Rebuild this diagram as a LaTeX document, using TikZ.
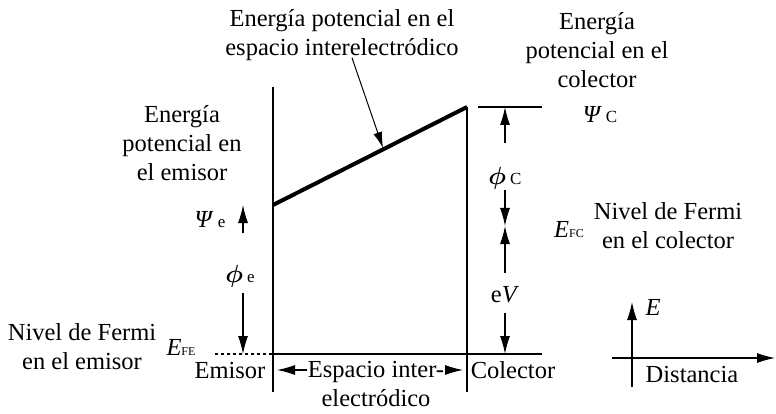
\documentclass[tikz,border=0pt]{standalone}
\usepackage{fontspec}
\setmainfont{Liberation Serif}
\usetikzlibrary{arrows.meta}
\tikzset{
  every picture/.style={line width=1.2pt},
  lbl/.style={font=\fontsize{24.5}{29}\selectfont, align=center, inner sep=0pt, anchor=base},
  dim/.style={-{Latex[length=18pt, width=10pt]}, line width=1.1pt},
  pointer/.style={-{Latex[length=16pt, width=9pt]}, line width=1pt},
  wall/.style={line width=1.4pt},
}
\newcommand{\subtxt}[1]{{\fontsize{17}{17}\selectfont #1}}
\newcommand{\smallsub}[1]{{\fontsize{12}{12}\selectfont #1}}
\newcommand{\wphi}{{\boldmath$\phi$}}

\begin{document}
\begin{tikzpicture}[x=1pt, y=-1pt]
  \useasboundingbox (0,0) rectangle (776,414);
  % electrodes and levels
  \coordinate (emTop) at (273,87);
  \coordinate (emBot) at (273,392);
  \coordinate (coTop) at (467,107);
  \coordinate (coBot) at (467,392);
  \coordinate (psiE) at (273,205);
  \coordinate (fermiE) at (273,354);
  \coordinate (fermiC) at (542,354);
  \coordinate (dashL) at (215,354);
  \coordinate (psiCl) at (478,107);
  \coordinate (psiCr) at (542,107);
  \draw[wall] (emTop) -- (emBot);
  \draw[wall] (coTop) -- (coBot);
  \draw[line width=4pt] (psiE) -- (coTop);
  \draw (psiCl) -- (psiCr);
  \draw (fermiE) -- (fermiC);
  \draw[dashed] (dashL) -- (fermiE);

  % labels (anchor is the baseline of the last line)
  \node[lbl] (topLbl) at (342,56) {Energía potencial en el\\espacio interelectródico};
  \coordinate (slopeTip) at (383,148);
  \draw[pointer] ([xshift=10pt, yshift=4pt]topLbl.south) -- (slopeTip);
  \node[lbl] (emPot) at (182,181) {Energía\\potencial en\\el emisor};
  \node[lbl] (coPot) at (597,88) {Energía\\potencial en el\\colector};
  \node[lbl] (emFermi) at (82,369) {Nivel de Fermi\\en el emisor};
  \node[lbl] (coFermi) at (668,248) {Nivel de Fermi\\en el colector};
  \node[lbl] (psiELbl) at (210,227) {\textit{Ψ}\,\subtxt{e}};
  \node[lbl] (psiCLbl) at (600,123) {\textit{Ψ}\,\subtxt{C}};
  \node[lbl] (efeLbl) at (181,355) {\textit{E}\smallsub{FE}};
  \node[lbl] (efcLbl) at (569,237) {\textit{E}\smallsub{FC}};

  % work function of the emitter
  \node[lbl] (phiE) at (240,282) {\wphi\,\subtxt{e}};
  \coordinate (phiEup) at (243,233);
  \coordinate (phiEtop) at (243,205);
  \coordinate (phiEdn) at (243,293);
  \coordinate (phiEbot) at (243,354);
  \draw[dim] (phiEup) -- (phiEtop);
  \draw[dim] (phiEdn) -- (phiEbot);

  % work function of the collector and eV
  \node[lbl] (phiC) at (505,185) {\wphi\,\subtxt{C}};
  \node[lbl] (eV) at (505,302) {e\textit{V}};
  \coordinate (phiCup) at (505,143);
  \coordinate (phiCtop) at (505,107);
  \coordinate (phiCdn) at (505,190);
  \coordinate (efc) at (505,226);
  \coordinate (eVup) at (505,273);
  \coordinate (eVdn) at (505,313);
  \coordinate (eVbot) at (505,354);
  \draw[dim] (phiCup) -- (phiCtop);
  \draw[dim] (phiCdn) -- (efc);
  \draw[dim] (eVup) -- (efc);
  \draw[dim] (eVdn) -- (eVbot);

  % bottom labels
  \node[lbl] (emisor) at (230,378) {Emisor};
  \node[lbl] (colector) at (513,378) {Colector};
  \node[lbl] (gap) at (376,406) {Espacio inter-\\electródico};
  \coordinate (gapL) at (277,370);
  \coordinate (gapR) at (463,370);
  \draw[dim] (gap.west |- gapL) -- (gapL);
  \draw[dim] (gap.east |- gapR) -- (gapR);

  % axes
  \coordinate (axB) at (632,387);
  \coordinate (axT) at (632,302);
  \coordinate (axL) at (612,358);
  \coordinate (axR) at (775,358);
  \draw[dim] (axB) -- (axT);
  \draw[dim] (axL) -- (axR);
  \node[lbl] (eAx) at (653,315) {\textit{E}};
  \node[lbl] (dist) at (692,382) {Distancia};
\end{tikzpicture}
\end{document}
